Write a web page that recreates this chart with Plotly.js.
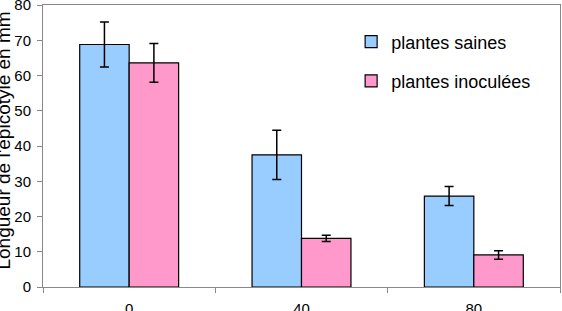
<!DOCTYPE html>
<html>
<head>
<meta charset="utf-8">
<script src="https://cdn.plot.ly/plotly-3.0.1.min.js"></script>
<style>html,body{margin:0;padding:0;background:#fff;}#chart{width:562px;height:311px;}</style>
</head>
<body>
<div id="chart"></div>
<script>
const categories = ['0', '40', '80'];
const sainesValues = [68.8, 37.5, 25.8];
const sainesErrors = [6.4, 7.0, 2.7];
const inoculeesValues = [63.6, 13.8, 9.1];
const inoculeesErrors = [5.5, 0.9, 1.2];
const seriesNames = ['plantes saines', 'plantes inoculées'];
const yTickVals = [0, 10, 20, 30, 40, 50, 60, 70, 80];
const yTitle = "Longueur de l'epicotyle en mm";

const errStyle = {type: 'data', visible: true, color: '#000', thickness: 1.5, width: 4.5};
const traces = [
  {type: 'bar', name: seriesNames[0], legendgroup: 'a', x: categories, y: sainesValues,
   error_y: Object.assign({array: sainesErrors}, errStyle),
   marker: {color: '#99CCFF', line: {color: '#000', width: 1.2}}},
  {type: 'bar', name: seriesNames[1], legendgroup: 'b', x: categories, y: inoculeesValues,
   error_y: Object.assign({array: inoculeesErrors}, errStyle),
   marker: {color: '#FF99CC', line: {color: '#000', width: 1.2}}}
];

const layout = {
  width: 562, height: 311,
  margin: {l: 43, r: 2, t: 5, b: 24, pad: 0},
  paper_bgcolor: '#fff', plot_bgcolor: '#fff',
  font: {family: 'Liberation Sans, Arial, sans-serif', size: 15, color: '#000'},
  barmode: 'group', bargap: 0.426, bargroupgap: 0,
  showlegend: true,
  legend: {x: 0.596, xanchor: 'left', y: 0.935, yanchor: 'top', bgcolor: 'rgba(0,0,0,0)',
           font: {size: 18}, tracegroupgap: 13, traceorder: 'grouped'},
  xaxis: {type: 'category', showline: true, mirror: true, linecolor: '#888', linewidth: 1,
          ticks: 'outside', tickson: 'boundaries', ticklen: 5, tickcolor: '#888',
          ticklabelstandoff: 8, tickfont: {size: 15}, showgrid: false, zeroline: false, fixedrange: true},
  yaxis: {range: [0, 80], tickmode: 'array', tickvals: yTickVals, showline: true, mirror: true,
          linecolor: '#888', linewidth: 1, ticklabeloverflow: 'allow',
          ticks: 'outside', ticklen: 5, tickcolor: '#888', ticklabelstandoff: 3,
          tickfont: {size: 15}, showgrid: false, zeroline: false, fixedrange: true},
  annotations: [{text: yTitle, textangle: -90, xref: 'paper', yref: 'paper',
                 x: -0.077, y: 0.52, xanchor: 'center', yanchor: 'middle', showarrow: false,
                 font: {size: 19}}]
};

Plotly.newPlot('chart', traces, layout, {displayModeBar: false, staticPlot: true});
</script>
</body>
</html>
